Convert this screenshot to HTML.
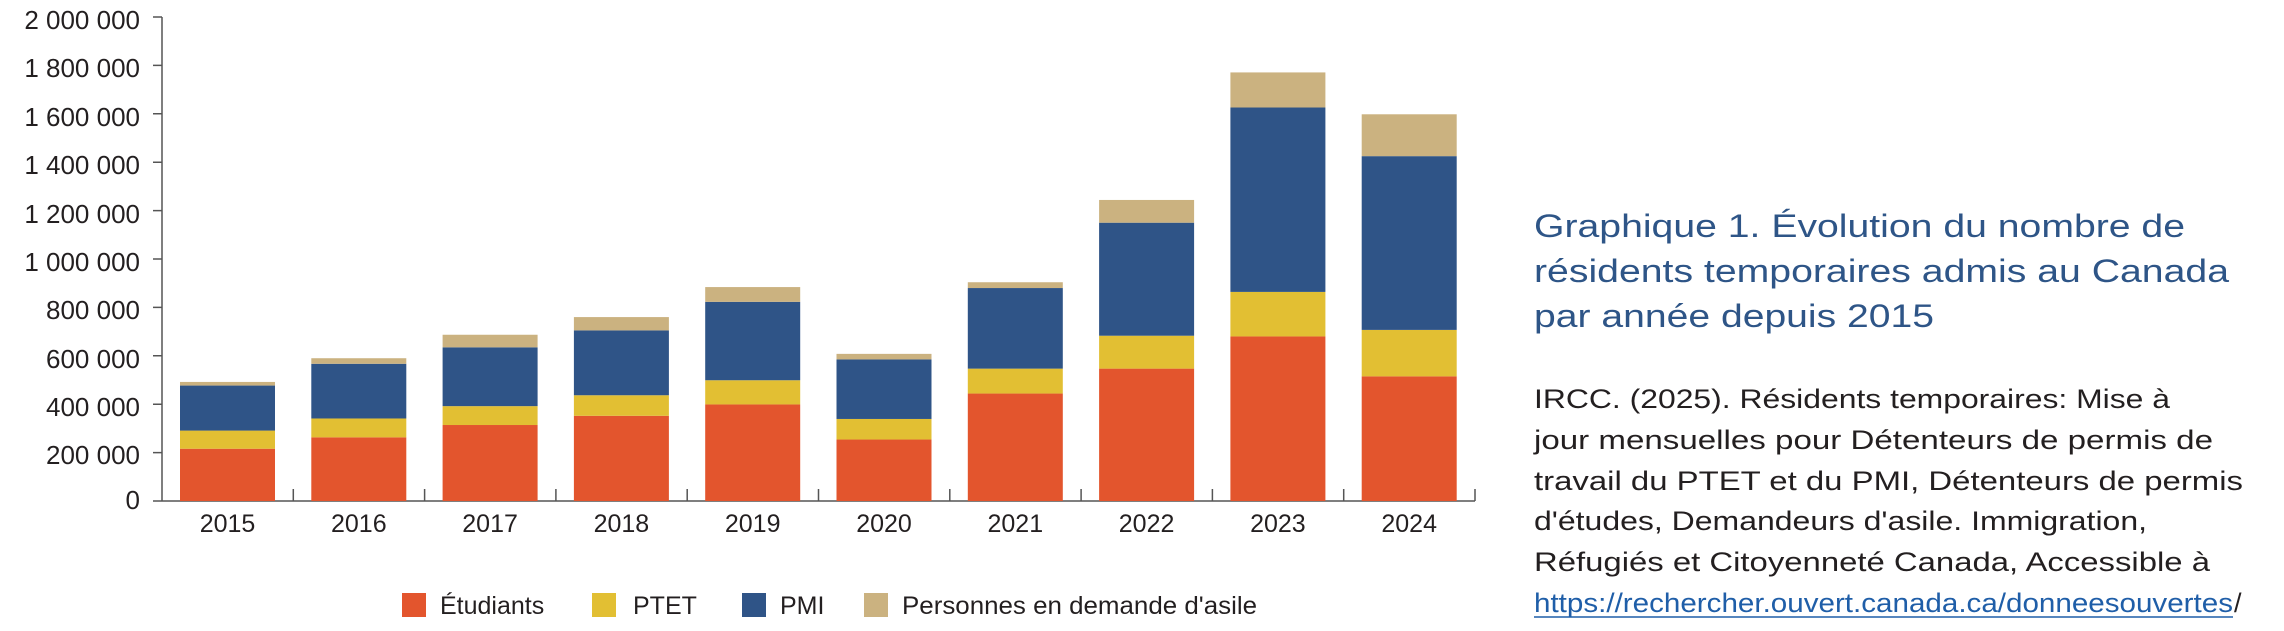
<!DOCTYPE html>
<html><head><meta charset="utf-8"><style>
html,body{margin:0;padding:0;background:#fff;}
svg{display:block;font-family:"Liberation Sans",sans-serif;}
</style></head><body>
<svg width="2284" height="631" viewBox="0 0 2284 631" xmlns="http://www.w3.org/2000/svg">
<g font-size="26" fill="#231f20" text-anchor="end">
<text x="140" y="29">2 000 000</text>
<text x="140" y="77">1 800 000</text>
<text x="140" y="126">1 600 000</text>
<text x="140" y="174">1 400 000</text>
<text x="140" y="223">1 200 000</text>
<text x="140" y="271">1 000 000</text>
<text x="140" y="319">800 000</text>
<text x="140" y="368">600 000</text>
<text x="140" y="416">400 000</text>
<text x="140" y="464">200 000</text>
<text x="140" y="509">0</text>
</g>
<g stroke="#555" stroke-width="1.5" fill="none">
<line x1="162" y1="17" x2="162" y2="501"/>
<path d="M153 17H162M153 65.4H162M153 113.8H162M153 162.2H162M153 210.6H162M153 259H162M153 307.4H162M153 355.8H162M153 404.2H162M153 452.6H162M153 501H1475"/>
<path d="M293.3 489V501M424.6 489V501M555.9 489V501M687.2 489V501M818.5 489V501M949.8 489V501M1081.1 489V501M1212.4 489V501M1343.7 489V501M1475 489V501"/>
</g>
<g id="bars"></g>
<g font-size="25" fill="#231f20" text-anchor="middle" id="years"></g>
<g font-size="25" fill="#231f20">
<rect x="402" y="593" width="24" height="24" fill="#e3552d"/><text x="440" y="614">Étudiants</text>
<rect x="592" y="593" width="24" height="24" fill="#e2bf33"/><text x="633" y="614">PTET</text>
<rect x="742" y="593" width="24" height="24" fill="#2f5487"/><text x="780" y="614">PMI</text>
<rect x="864" y="593" width="24" height="24" fill="#cbb280"/><text x="902" y="614" textLength="355" lengthAdjust="spacingAndGlyphs">Personnes en demande d'asile</text>
</g>
<g font-size="32" fill="#2e5587">
<text x="1534" y="237" textLength="651" lengthAdjust="spacingAndGlyphs">Graphique 1. Évolution du nombre de</text>
<text x="1534" y="282" textLength="695" lengthAdjust="spacingAndGlyphs">résidents temporaires admis au Canada</text>
<text x="1534" y="327" textLength="400" lengthAdjust="spacingAndGlyphs">par année depuis 2015</text>
</g>
<g font-size="27" fill="#231f20">
<text x="1534" y="408" textLength="636" lengthAdjust="spacingAndGlyphs">IRCC. (2025). Résidents temporaires: Mise à</text>
<text x="1534" y="449" textLength="679" lengthAdjust="spacingAndGlyphs">jour mensuelles pour Détenteurs de permis de</text>
<text x="1534" y="490" textLength="709" lengthAdjust="spacingAndGlyphs">travail du PTET et du PMI, Détenteurs de permis</text>
<text x="1534" y="530" textLength="613" lengthAdjust="spacingAndGlyphs">d'études, Demandeurs d'asile. Immigration,</text>
<text x="1534" y="571" textLength="676" lengthAdjust="spacingAndGlyphs">Réfugiés et Citoyenneté Canada, Accessible à</text>
<text x="1534" y="612" fill="#1f5ea8" textLength="699" lengthAdjust="spacingAndGlyphs">https://rechercher.ouvert.canada.ca/donneesouvertes</text>
<text x="2234" y="612">/</text>
<line x1="1534" y1="617" x2="2233" y2="617" stroke="#1f5ea8" stroke-width="1.5"/>
</g>
</svg>
<script>
var d=[[216,291,477,492],[263,341,567,590],[314,392,635,687],[352,437,705,760],[399,499,823,884],[254,339,585,608],[444,547,880,904],[547,683,1150,1244],[680,864,1626,1771],[515,707,1425,1598]];
var c=["#e3552d","#e2bf33","#2f5487","#cbb280"];
var g=document.getElementById("bars"),yg=document.getElementById("years"),ns="http://www.w3.org/2000/svg";
function Y(v){return 501-v*0.242;}
d.forEach(function(r,i){var x=180+i*131.3,prev=0;
r.forEach(function(v,k){var e=document.createElementNS(ns,"rect");e.setAttribute("x",x);e.setAttribute("width",95);e.setAttribute("y",Y(v));e.setAttribute("height",Y(prev)-Y(v));e.setAttribute("fill",c[k]);g.appendChild(e);prev=v;});
var t=document.createElementNS(ns,"text");t.setAttribute("x",x+47.5);t.setAttribute("y",532);t.textContent=2015+i;yg.appendChild(t);});
</script>
</body></html>
